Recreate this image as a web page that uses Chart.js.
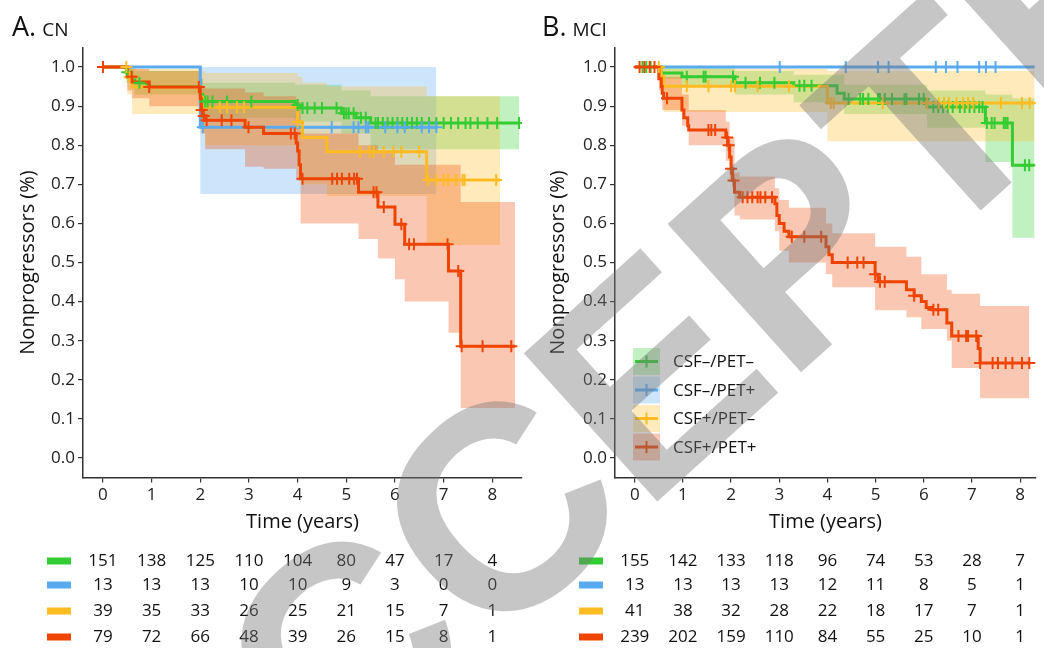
<!DOCTYPE html>
<html>
<head>
<meta charset="utf-8">
<script src="https://cdn.jsdelivr.net/npm/chart.js@4.4.1/dist/chart.umd.min.js"></script>
<style>
  html, body { margin: 0; padding: 0; background: #fff; }
  #wrap { position: relative; width: 1044px; height: 648px; overflow: hidden; }
  #cn { position: absolute; left: 0; top: 0; }
  #mci { position: absolute; left: 530px; top: 0; }
  #stamp { position: absolute; left: 0; top: 0; pointer-events: none; }
</style>
</head>
<body>
<div id="wrap">
  <canvas id="cn" width="530" height="648"></canvas>
  <canvas id="mci" width="514" height="648"></canvas>
  <svg id="stamp" width="1044" height="648">
    <text x="176" y="935" transform="rotate(-42 176 935)" font-family="Liberation Sans" font-weight="bold"
          font-size="290" fill="rgb(120,120,120)" fill-opacity="0.42">ACCEPTED</text>
  </svg>
</div>
<script>
// groups, colours and axis ticks
const groupNames = ['CSF\u2013/PET\u2013', 'CSF\u2013/PET+', 'CSF+/PET\u2013', 'CSF+/PET+'];
const lineColors = ['#33cc33', '#5aaaee', '#ffbb22', '#ee4400'];
const bandColors = ['rgba(51,204,51,0.30)', 'rgba(90,170,238,0.30)', 'rgba(255,187,34,0.30)', 'rgba(238,68,0,0.30)'];
const years = [0, 1, 2, 3, 4, 5, 6, 7, 8];
const yTicks = [0, 0.1, 0.2, 0.3, 0.4, 0.5, 0.6, 0.7, 0.8, 0.9, 1.0];

// ---- A. CN : [time, survival] / [time, upper, lower] / censor times
const cnGreenKM = [[0,1],[0.48,0.987],[0.55,0.974],[0.65,0.96],[0.9,0.95],[2.0,0.93],[2.05,0.912],[3.95,0.903],[4.05,0.895],[4.9,0.882],[5.2,0.87],[5.5,0.857],[8.55,0.857]];
const cnGreenCI = [[0,1,1],[0.48,1,0.96],[0.65,0.99,0.93],[2.0,0.97,0.89],[2.05,0.96,0.87],[3.95,0.955,0.86],[4.9,0.94,0.83],[5.5,0.925,0.79],[8.55,0.925,0.79]];
const cnGreenCens = [0.5,0.75,2.1,2.15,2.25,2.55,3.05,4.0,4.1,4.2,4.35,4.5,4.8,4.95,5.0,5.05,5.15,5.3,5.4,5.6,5.65,5.75,5.85,5.95,6.05,6.15,6.25,6.35,6.45,6.55,6.7,6.85,7.0,7.15,7.3,7.45,7.55,7.7,7.9,8.1,8.55];

const cnBlueKM = [[0,1],[2.0,0.846],[6.85,0.846]];
const cnBlueCI = [[0,1,1],[2.0,1,0.675],[6.85,1,0.675]];
const cnBlueCens = [2.05,4.7,5.15,5.25,5.4,5.45,5.8,6.05,6.2,6.55,6.7,6.85];

const cnYellowKM = [[0,1],[0.5,0.974],[0.6,0.949],[2.0,0.923],[2.1,0.897],[4.0,0.86],[4.1,0.82],[4.6,0.783],[6.65,0.711],[8.16,0.711]];
const cnYellowCI = [[0,1,1],[0.5,1,0.93],[0.6,0.995,0.88],[2.0,0.99,0.83],[2.1,0.985,0.8],[4.0,0.975,0.75],[4.1,0.96,0.7],[4.6,0.95,0.67],[6.65,0.925,0.545],[8.16,0.925,0.545]];
const cnYellowCens = [0.48,0.55,2.4,2.55,2.75,2.9,4.0,5.28,5.48,5.56,5.77,5.97,6.13,6.5,6.68,6.84,7.0,7.09,7.25,7.39,7.43,8.08];

const cnRedKM = [[0,1],[0.5,0.975],[0.6,0.962],[0.95,0.949],[2.0,0.92],[2.02,0.89],[2.05,0.875],[2.1,0.864],[2.92,0.846],[3.3,0.83],[3.97,0.806],[4.0,0.785],[4.03,0.75],[4.06,0.714],[5.25,0.68],[5.65,0.642],[6.0,0.598],[6.2,0.547],[7.1,0.478],[7.35,0.286],[8.47,0.286]];
const cnRedCI = [[0,1,1],[0.5,1,0.94],[0.6,0.995,0.92],[0.95,0.99,0.9],[2.0,0.97,0.86],[2.05,0.95,0.83],[2.1,0.945,0.79],[2.92,0.935,0.745],[3.3,0.925,0.74],[3.97,0.91,0.71],[4.06,0.83,0.6],[5.25,0.8,0.56],[5.65,0.78,0.51],[6.0,0.75,0.457],[6.2,0.75,0.4],[7.1,0.75,0.32],[7.35,0.655,0.128],[8.47,0.655,0.128]];
const cnRedCens = [0,0.59,0.95,1.97,2.03,2.07,2.13,2.44,2.64,2.99,3.86,3.94,4.1,4.71,4.81,4.91,5.06,5.16,5.22,5.56,5.62,5.77,6.13,6.29,6.39,7.08,7.3,7.37,7.8,8.39];

const cnRisk = [
  [151, 138, 125, 110, 104, 80, 47, 17, 4],
  [13, 13, 13, 10, 10, 9, 3, 0, 0],
  [39, 35, 33, 26, 25, 21, 15, 7, 1],
  [79, 72, 66, 48, 39, 26, 15, 8, 1]
];

// ---- B. MCI
const mciGreenKM = [[0,1],[0.55,0.985],[0.98,0.975],[2.08,0.96],[3.3,0.952],[4.2,0.933],[4.35,0.918],[6.07,0.898],[7.28,0.857],[7.84,0.749],[8.3,0.749]];
const mciGreenCI = [[0,1,1],[0.55,1,0.97],[0.98,1,0.95],[2.08,0.99,0.93],[3.3,0.98,0.91],[4.35,0.955,0.88],[6.07,0.94,0.845],[7.28,0.93,0.757],[7.84,0.92,0.563],[8.3,0.92,0.563]];
const mciGreenCens = [0.16,0.24,0.33,1.08,1.43,1.47,2.04,2.3,2.6,2.9,3.42,3.52,3.67,4.44,4.68,4.74,4.85,5.05,5.09,5.19,5.34,5.6,5.64,5.9,6.0,6.2,6.3,6.4,6.5,6.6,6.75,6.85,6.95,7.05,7.15,7.22,7.31,7.41,7.47,7.66,7.7,7.74,8.1,8.19];

const mciBlueKM = [[0,1],[8.3,1]];
const mciBlueCI = [[0,1,1],[8.3,1,1]];
const mciBlueCens = [3.01,4.38,5.05,5.27,6.25,6.46,6.7,7.15,7.29,7.49];

const mciYellowKM = [[0,1],[0.55,0.976],[0.6,0.951],[4.0,0.908],[8.3,0.908]];
const mciYellowCI = [[0,1,1],[0.55,1,0.93],[0.6,0.995,0.885],[4.0,0.99,0.81],[8.3,0.99,0.81]];
const mciYellowCens = [0.5,1.08,1.53,2.0,2.08,2.55,3.2,4.07,4.13,5.15,6.07,6.31,6.42,6.52,6.68,6.82,6.92,7.03,7.6,8.04,8.2];

const mciRedKM = [[0,1],[0.5,0.97],[0.55,0.95],[0.57,0.933],[0.6,0.92],[0.98,0.89],[1.02,0.87],[1.1,0.85],[1.12,0.839],[1.89,0.82],[1.93,0.8],[1.97,0.77],[2.0,0.74],[2.03,0.71],[2.07,0.68],[2.18,0.667],[2.91,0.65],[2.95,0.62],[3.0,0.6],[3.1,0.58],[3.2,0.566],[3.97,0.54],[4.03,0.52],[4.1,0.5],[4.99,0.47],[5.05,0.451],[5.64,0.43],[5.8,0.415],[5.95,0.4],[6.05,0.385],[6.17,0.379],[6.48,0.345],[6.58,0.312],[7.13,0.28],[7.17,0.243],[8.19,0.243]];
const mciRedCI = [[0,1,1],[0.5,0.995,0.94],[0.57,0.975,0.89],[0.98,0.93,0.85],[1.12,0.89,0.8],[1.89,0.86,0.76],[1.97,0.82,0.71],[2.07,0.73,0.62],[2.18,0.72,0.61],[2.91,0.69,0.58],[3.0,0.66,0.53],[3.2,0.64,0.5],[3.97,0.6,0.47],[4.1,0.575,0.437],[4.99,0.54,0.378],[5.64,0.515,0.36],[5.95,0.47,0.33],[6.48,0.43,0.3],[6.58,0.42,0.23],[7.17,0.389,0.153],[8.19,0.389,0.153]];
const mciRedCens = [0.1,0.2,0.31,0.41,0.67,1.53,1.59,1.67,1.92,1.95,2.0,2.05,2.24,2.34,2.44,2.55,2.61,2.71,2.85,3.26,3.52,3.87,4.42,4.62,4.75,4.99,5.09,5.19,5.8,6.2,6.3,6.72,6.88,6.92,7.09,7.17,7.43,7.54,7.7,7.84,8.04,8.19];

const mciRisk = [
  [155, 142, 133, 118, 96, 74, 53, 28, 7],
  [13, 13, 13, 13, 12, 11, 8, 5, 1],
  [41, 38, 32, 28, 22, 18, 17, 7, 1],
  [239, 202, 159, 110, 84, 55, 25, 10, 1]
];

const FONT = '"Open Sans", "Noto Sans", sans-serif';

// survival value of a step curve at time t
function stepAt(km, t) {
  let y = km[0][1];
  for (const p of km) { if (p[0] <= t) y = p[1]; }
  return y;
}

function buildDatasets(groups) {
  const ds = [];
  groups.forEach((g, i) => {
    ds.push({ data: g.ci.map(r => ({ x: r[0], y: r[1] })), stepped: 'before', borderWidth: 0,
              pointRadius: 0, fill: false, order: 20 - i });
    ds.push({ data: g.ci.map(r => ({ x: r[0], y: r[2] })), stepped: 'before', borderWidth: 0,
              pointRadius: 0, fill: '-1', backgroundColor: bandColors[i], order: 20 - i });
  });
  groups.forEach((g, i) => {
    ds.push({ data: g.km.map(r => ({ x: r[0], y: r[1] })), stepped: 'before', borderWidth: 3,
              borderColor: lineColors[i], pointRadius: 0, fill: false, order: 10 - i });
  });
  groups.forEach((g, i) => {
    ds.push({ data: g.cens.map(t => ({ x: t, y: stepAt(g.km, t) })), showLine: false,
              pointStyle: 'cross', pointRadius: 6, pointBorderWidth: 2,
              pointBorderColor: lineColors[i], pointBackgroundColor: lineColors[i], order: 5 - i });
  });
  return ds;
}

// titles, axis titles, risk table and (optionally) legend
function decorPlugin(letter, name, risk, showLegend) {
  return {
    id: 'decor',
    afterDraw(chart) {
      const ctx = chart.ctx;
      const area = chart.chartArea;
      const xs = chart.scales.x;
      ctx.save();
      ctx.fillStyle = '#111';
      ctx.textBaseline = 'alphabetic';
      ctx.textAlign = 'left';
      ctx.font = '27px ' + FONT;
      ctx.fillText(letter, 12, 36);
      const w = ctx.measureText(letter).width;
      ctx.font = '19px ' + FONT;
      ctx.fillText(name, 12 + w + 6, 36);

      // axis titles
      ctx.font = '20px ' + FONT;
      ctx.textAlign = 'center';
      ctx.textBaseline = 'middle';
      ctx.fillText('Time (years)', (area.left + area.right) / 2, 522);
      ctx.save();
      ctx.translate(28, (area.top + area.bottom) / 2);
      ctx.rotate(-Math.PI / 2);
      ctx.fillText('Nonprogressors (%)', 0, 0);
      ctx.restore();

      // number at risk
      const rowY = [561, 585, 611, 637];
      ctx.font = '17px ' + FONT;
      risk.forEach((row, i) => {
        ctx.fillStyle = lineColors[i];
        ctx.fillRect(area.left - 36, rowY[i] - 3.5, 24, 7);
        ctx.fillStyle = '#111';
        row.forEach((n, j) => {
          ctx.fillText(String(n), xs.getPixelForValue(years[j]), rowY[i]);
        });
      });

      if (showLegend) {
        const bx = area.left + 18, by = [348, 376.5, 405, 433.5], bs = 27;
        groupNames.forEach((g, i) => {
          ctx.fillStyle = bandColors[i];
          ctx.fillRect(bx, by[i], bs, bs);
          const cy = by[i] + bs / 2;
          ctx.strokeStyle = lineColors[i];
          ctx.lineWidth = 3;
          ctx.beginPath();
          ctx.moveTo(bx + 2, cy); ctx.lineTo(bx + bs - 2, cy);
          ctx.stroke();
          ctx.lineWidth = 2;
          ctx.beginPath();
          ctx.moveTo(bx + bs / 2, cy - 6); ctx.lineTo(bx + bs / 2, cy + 6);
          ctx.stroke();
          ctx.fillStyle = '#111';
          ctx.textAlign = 'left';
          ctx.font = '17px ' + FONT;
          ctx.fillText(g, bx + bs + 13, cy + 1);
        });
      }
      ctx.restore();
    }
  };
}

function makePanel(id, groups, risk, xMax, padRight, yWidth, letter, name, showLegend) {
  return new Chart(document.getElementById(id), {
    type: 'line',
    data: { datasets: buildDatasets(groups) },
    options: {
      animation: false,
      responsive: false,
      layout: { padding: { left: 0, right: padRight, top: 47.5, bottom: 110.5 } },
      plugins: { legend: { display: false }, tooltip: { enabled: false } },
      scales: {
        x: {
          type: 'linear', min: -0.41, max: xMax,
          afterFit: s => { s.height = 60; },
          afterBuildTicks: s => { s.ticks = years.map(v => ({ value: v })); },
          ticks: { font: { size: 17, family: FONT }, color: '#222', padding: 2, maxRotation: 0, autoSkip: false },
          grid: { drawOnChartArea: false, drawTicks: true, tickLength: 5, color: '#333', lineWidth: 1.2 },
          border: { display: true, color: '#333', width: 1.5 }
        },
        y: {
          type: 'linear', min: -0.05, max: 1.05,
          afterFit: s => { s.width = yWidth; },
          afterBuildTicks: s => { s.ticks = yTicks.map(v => ({ value: v })); },
          ticks: { font: { size: 17, family: FONT }, color: '#222', padding: 3, autoSkip: false,
                   callback: v => v.toFixed(1) },
          grid: { drawOnChartArea: false, drawTicks: true, tickLength: 5, color: '#333', lineWidth: 1.2 },
          border: { display: true, color: '#333', width: 1.5 }
        }
      }
    },
    plugins: [decorPlugin(letter, name, risk, showLegend)]
  });
}

makePanel('cn', [
  { km: cnGreenKM, ci: cnGreenCI, cens: cnGreenCens },
  { km: cnBlueKM, ci: cnBlueCI, cens: cnBlueCens },
  { km: cnYellowKM, ci: cnYellowCI, cens: cnYellowCens },
  { km: cnRedKM, ci: cnRedCI, cens: cnRedCens }
], cnRisk, 8.61, 3, 83, 'A.', 'CN', false);

makePanel('mci', [
  { km: mciGreenKM, ci: mciGreenCI, cens: mciGreenCens },
  { km: mciBlueKM, ci: mciBlueCI, cens: mciBlueCens },
  { km: mciYellowKM, ci: mciYellowCI, cens: mciYellowCens },
  { km: mciRedKM, ci: mciRedCI, cens: mciRedCens }
], mciRisk, 8.33, 0, 85, 'B.', 'MCI', true);
</script>
</body>
</html>
